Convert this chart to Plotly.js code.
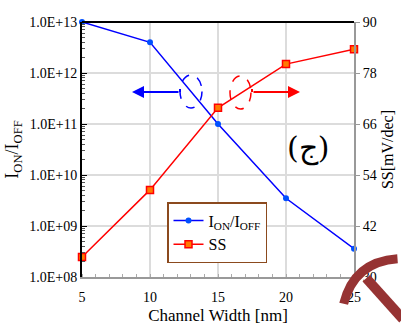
<!DOCTYPE html>
<html><head><meta charset="utf-8">
<script src="https://cdn.plot.ly/plotly-3.0.1.min.js"></script>
<style>html,body{margin:0;padding:0;background:#fff}#c{width:401px;height:325px}</style>
</head><body><div id="c"></div>
<script>
const widths = [5, 10, 15, 20, 25];
const ionIoff = [1.0e13, 4.0e12, 1.0e11, 3.5e9, 3.6e8];
const ss = [34.7, 50.5, 69.8, 80.1, 83.6];
const leftTickVals = [1e8, 1e9, 1e10, 1e11, 1e12, 1e13];
const leftTickText = ['1.0E+08', '1.0E+09', '1.0E+10', '1.0E+11', '1.0E+12', '1.0E+13'];
const rightTickVals = [30, 42, 54, 66, 78, 90];
const xTickVals = [5, 10, 15, 20, 25];

const F = '"Liberation Serif", "Times New Roman", serif';
// pixel -> paper helpers (plot area: x 82..354, y 22..277)
const px = v => (v - 82) / 272;
const py = v => (277 - v) / 255;
const traces = [
  {x: widths, y: ionIoff, name: 'I<sub>ON</sub>/I<sub>OFF</sub>', type: 'scatter', mode: 'lines+markers',
   line: {color: '#0000ff', width: 1.5}, marker: {symbol: 'circle', size: 6, color: '#0050ff'}, yaxis: 'y', cliponaxis: false},
  {x: widths, y: ss, name: 'SS', type: 'scatter', mode: 'lines+markers',
   line: {color: '#ff0000', width: 1.5}, marker: {symbol: 'square', size: 7, color: '#ff7a00', line: {color: '#ff0000', width: 1.5}}, yaxis: 'y2', cliponaxis: false}
];
const layout = {
  width: 401, height: 325,
  margin: {l: 82, r: 47, t: 22, b: 48},
  paper_bgcolor: '#fff', plot_bgcolor: '#fff',
  font: {family: F, color: '#000', size: 14},
  showlegend: true,
  legend: {x: px(167), y: py(202), xanchor: 'left', yanchor: 'top', bgcolor: '#fff',
           bordercolor: '#8b4a1e', borderwidth: 1.5, font: {size: 16, family: F}, tracegroupgap: 0},
  xaxis: {range: [5, 25], tickvals: xTickVals, showgrid: true, gridcolor: '#dcdcdc', gridwidth: 1.2,
          showline: true, linecolor: '#999', linewidth: 2, ticks: '', zeroline: false, ticklabelstandoff: 6,
          minor: {ticks: 'inside', ticklen: 3, tickcolor: '#aaa', dtick: 1, showgrid: false},
          tickfont: {size: 14, family: F}, title: {text: 'Channel Width [nm]', font: {size: 17, family: F}, standoff: 6}},
  yaxis: {type: 'log', range: [8, 13], tickvals: leftTickVals, ticktext: leftTickText,
          showgrid: true, gridcolor: '#dcdcdc', gridwidth: 1.2, showline: true, linecolor: '#000', linewidth: 2,
          ticks: 'inside', ticklen: 5, tickcolor: '#000', zeroline: false,
          minor: {ticks: 'inside', ticklen: 3, tickcolor: '#555', dtick: 'D1', showgrid: false},
          tickfont: {size: 14, family: F}, title: {text: 'I<sub>ON</sub>/I<sub>OFF</sub>', font: {size: 18, family: F}, standoff: 6}},
  yaxis2: {overlaying: 'y', side: 'right', range: [30, 90], tickvals: rightTickVals, showgrid: false,
           showline: true, linecolor: '#999', linewidth: 2, ticks: 'outside', ticklen: 4, tickcolor: '#999',
           zeroline: false, tickfont: {size: 14, family: F}, title: {text: 'SS[mV/dec]', font: {size: 16, family: F}, standoff: 6}},
  shapes: [
    {type: 'line', xref: 'paper', yref: 'paper', x0: 0, x1: 1, y0: 1, y1: 1, line: {color: '#000', width: 2}},
    {type: 'circle', xref: 'paper', yref: 'paper', x0: px(180), x1: px(202), y0: py(108), y1: py(75), line: {color: '#0000ff', width: 1.5, dash: 'dash'}},
    {type: 'circle', xref: 'paper', yref: 'paper', x0: px(230), x1: px(251), y0: py(109), y1: py(76), line: {color: '#ff0000', width: 1.5, dash: 'dash'}},
    {type: 'line', xref: 'paper', yref: 'paper', x0: px(180), x1: px(180), y0: py(92), y1: py(89), line: {color: '#0000ff', width: 2}},
    {type: 'line', xref: 'paper', yref: 'paper', x0: px(252), x1: px(252), y0: py(92), y1: py(89), line: {color: '#ff0000', width: 2}},
    {type: 'path', xref: 'paper', yref: 'paper', path: 'M 0.962 -0.105 Q 1.0 0.06 1.16 0.072', line: {color: '#963333', width: 9}},
    {type: 'path', xref: 'paper', yref: 'paper', path: 'M 1.045 -0.005 L 1.18 -0.165', line: {color: '#963333', width: 10}}
  ],
  annotations: [
    {xref: 'paper', yref: 'paper', x: px(132), y: py(92), ax: px(180), ay: py(92), axref: 'paper', ayref: 'paper', text: '', showarrow: true,
     arrowhead: 2, arrowsize: 1.2, arrowwidth: 2, arrowcolor: '#0000ff'},
    {xref: 'paper', yref: 'paper', x: px(300), y: py(92), ax: px(252), ay: py(92), axref: 'paper', ayref: 'paper', text: '', showarrow: true,
     arrowhead: 2, arrowsize: 1.2, arrowwidth: 2, arrowcolor: '#ff0000'},
    {xref: 'paper', yref: 'paper', x: px(331), y: py(148), text: '(ج)', showarrow: false, font: {size: 30, family: 'DejaVu Serif', color: '#000'}}
  ]
};
Plotly.newPlot('c', traces, layout, {displayModeBar: false, staticPlot: true});
</script></body></html>
